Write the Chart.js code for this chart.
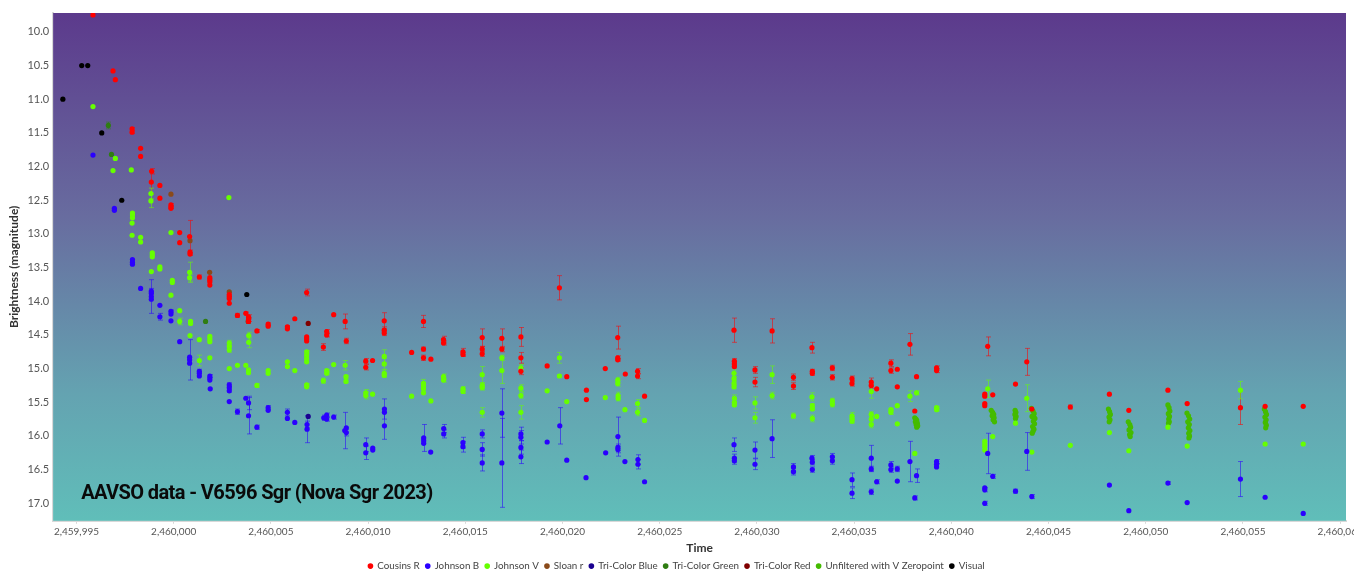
<!DOCTYPE html>
<html>
<head>
<meta charset="utf-8">
<title>AAVSO data - V6596 Sgr (Nova Sgr 2023)</title>
<script src="https://cdn.jsdelivr.net/npm/chart.js@4.4.1/dist/chart.umd.min.js"></script>
<style>
  html, body { margin: 0; padding: 0; background: #ffffff; overflow: hidden; }
  #wrap { width: 1354px; height: 571px; position: relative; }
</style>
</head>
<body>
<div id="wrap"><canvas id="chart" width="1354" height="571"></canvas></div>
<script>
// Observations: [Julian Date, magnitude, uncertainty]
const cousinsR = [
  [2459995.85, 9.75, 0], [2459996.88, 10.58, 0], [2459997.00, 10.71, 0],
  [2459997.86, 11.44, 0.02], [2459997.86, 11.49, 0.02], [2459998.30, 11.73, 0], [2459998.30, 11.85, 0],
  [2459998.87, 12.07, 0.04], [2459998.85, 12.23, 0.17], [2459999.29, 12.28, 0], [2459999.29, 12.47, 0],
  [2459999.86, 12.57, 0.02], [2459999.86, 12.60, 0.02], [2459999.86, 12.62, 0],
  [2460000.31, 12.98, 0], [2460000.31, 13.13, 0], [2460000.82, 13.04, 0.24],
  [2460000.84, 13.27, 0.03], [2460000.84, 13.30, 0.02], [2460001.32, 13.64, 0.03],
  [2460001.86, 13.65, 0], [2460001.86, 13.68, 0], [2460001.86, 13.71, 0], [2460001.86, 13.76, 0],
  [2460002.86, 13.90, 0.03], [2460002.86, 13.93, 0], [2460002.86, 13.96, 0], [2460002.86, 14.03, 0],
  [2460003.28, 14.21, 0.03], [2460003.71, 14.18, 0.02],
  [2460003.85, 14.23, 0.03], [2460003.85, 14.27, 0.03], [2460003.85, 14.30, 0],
  [2460004.28, 14.44, 0.02], [2460004.86, 14.34, 0.02], [2460004.86, 14.37, 0],
  [2460005.85, 14.38, 0.02], [2460005.85, 14.41, 0], [2460006.23, 14.26, 0],
  [2460006.84, 13.87, 0.05], [2460006.84, 14.53, 0], [2460006.84, 14.56, 0], [2460006.84, 14.59, 0],
  [2460007.70, 14.68, 0.05], [2460007.87, 14.45, 0.03], [2460007.87, 14.50, 0.03],
  [2460008.23, 14.20, 0], [2460008.82, 14.30, 0.11], [2460008.88, 14.59, 0.04],
  [2460009.88, 14.89, 0.04], [2460009.88, 14.98, 0.04], [2460010.23, 14.88, 0],
  [2460010.83, 14.29, 0.12], [2460010.83, 14.43, 0.05], [2460010.83, 14.47, 0.04],
  [2460012.24, 14.76, 0], [2460012.85, 14.30, 0.09], [2460012.85, 14.71, 0.03], [2460012.85, 14.84, 0.04],
  [2460013.23, 14.86, 0], [2460013.88, 14.57, 0.05], [2460013.88, 14.62, 0.03],
  [2460014.88, 14.75, 0.05], [2460014.88, 14.79, 0.03],
  [2460015.87, 14.54, 0.13], [2460015.87, 14.71, 0.04], [2460015.87, 14.78, 0.04],
  [2460016.88, 14.55, 0.14], [2460016.88, 14.71, 0.04],
  [2460017.86, 14.53, 0.14], [2460017.86, 14.84, 0.08], [2460017.86, 15.04, 0.05],
  [2460019.21, 14.96, 0], [2460019.84, 13.80, 0.18], [2460020.22, 15.12, 0],
  [2460021.23, 15.32, 0], [2460021.23, 15.46, 0], [2460022.20, 15.00, 0],
  [2460022.84, 14.54, 0.17], [2460022.84, 14.84, 0.03], [2460022.84, 14.87, 0.02],
  [2460023.23, 15.08, 0], [2460023.86, 15.04, 0.04], [2460023.86, 15.11, 0.04], [2460024.22, 15.41, 0],
  [2460028.82, 14.43, 0.18], [2460028.84, 14.89, 0.04], [2460028.84, 14.93, 0.03], [2460028.84, 14.97, 0.02],
  [2460029.90, 15.02, 0.05], [2460029.90, 15.20, 0.07], [2460030.78, 14.44, 0.18],
  [2460031.88, 15.13, 0.05], [2460031.88, 15.26, 0.05],
  [2460032.83, 14.69, 0.08], [2460032.85, 15.04, 0.03], [2460032.85, 15.07, 0.03],
  [2460033.88, 14.99, 0.04], [2460033.88, 15.13, 0.04],
  [2460034.89, 15.15, 0.04], [2460034.89, 15.22, 0.04],
  [2460035.88, 15.20, 0.06], [2460035.88, 15.25, 0.04], [2460036.16, 15.30, 0],
  [2460036.89, 14.92, 0.05], [2460036.89, 15.03, 0.04], [2460037.22, 15.01, 0], [2460037.22, 15.27, 0],
  [2460037.87, 14.64, 0.16], [2460038.21, 15.12, 0], [2460038.12, 15.63, 0],
  [2460039.24, 14.99, 0.03], [2460039.24, 15.03, 0.03],
  [2460041.87, 14.67, 0.14], [2460041.72, 15.38, 0], [2460041.72, 15.41, 0], [2460041.72, 15.52, 0], [2460041.72, 15.55, 0],
  [2460042.13, 15.39, 0], [2460043.30, 15.23, 0], [2460043.88, 14.90, 0.20], [2460044.14, 15.60, 0],
  [2460046.12, 15.57, 0.03], [2460048.13, 15.38, 0], [2460049.13, 15.62, 0], [2460051.14, 15.32, 0],
  [2460052.13, 15.52, 0], [2460054.87, 15.58, 0.25], [2460056.14, 15.56, 0], [2460058.10, 15.56, 0]
];

const johnsonB = [
  [2459995.85, 11.83, 0], [2459996.95, 12.62, 0], [2459996.95, 12.65, 0],
  [2459997.88, 13.38, 0], [2459997.88, 13.42, 0], [2459997.88, 13.45, 0], [2459998.30, 13.81, 0],
  [2459998.85, 13.85, 0.04], [2459998.85, 13.88, 0], [2459998.85, 13.93, 0.25], [2459998.85, 13.97, 0],
  [2459999.29, 14.06, 0], [2459999.29, 14.23, 0.05],
  [2459999.86, 14.15, 0.02], [2459999.86, 14.19, 0], [2459999.86, 14.29, 0], [2460000.31, 14.60, 0],
  [2460000.82, 14.83, 0], [2460000.82, 14.87, 0.30], [2460000.82, 14.92, 0],
  [2460001.32, 15.04, 0.03], [2460001.32, 15.07, 0], [2460001.32, 15.11, 0],
  [2460001.86, 15.11, 0.02], [2460001.86, 15.14, 0], [2460001.86, 15.17, 0], [2460001.88, 15.30, 0],
  [2460002.86, 15.24, 0.03], [2460002.86, 15.28, 0.02], [2460002.86, 15.33, 0.02], [2460002.86, 15.49, 0],
  [2460003.28, 15.64, 0.04], [2460003.71, 15.44, 0],
  [2460003.85, 15.51, 0.10], [2460003.85, 15.70, 0.27], [2460004.28, 15.87, 0.03],
  [2460004.86, 15.58, 0.03], [2460004.86, 15.62, 0], [2460005.85, 15.65, 0.05], [2460005.85, 15.74, 0],
  [2460006.23, 15.80, 0], [2460006.86, 15.83, 0.05], [2460006.86, 15.90, 0.20],
  [2460007.72, 15.73, 0.04], [2460007.87, 15.69, 0.03], [2460007.87, 15.75, 0.03], [2460008.23, 15.72, 0.03],
  [2460008.80, 15.92, 0.27], [2460008.88, 15.88, 0], [2460008.88, 15.95, 0.05],
  [2460009.88, 16.13, 0.10], [2460009.88, 16.25, 0.10], [2460010.24, 16.18, 0], [2460010.24, 16.21, 0],
  [2460010.84, 15.60, 0.15], [2460010.84, 15.65, 0], [2460010.84, 15.85, 0.20],
  [2460012.86, 16.03, 0.20], [2460012.86, 16.07, 0], [2460012.86, 16.11, 0], [2460013.22, 16.24, 0],
  [2460013.89, 15.89, 0.06], [2460013.89, 15.97, 0.06],
  [2460014.88, 16.10, 0.08], [2460014.88, 16.16, 0.08],
  [2460015.87, 15.97, 0.06], [2460015.87, 16.20, 0.10], [2460015.87, 16.40, 0.12],
  [2460016.88, 15.66, 0.36], [2460016.88, 16.40, 0.66],
  [2460017.86, 15.97, 0.10], [2460017.86, 16.02, 0.10], [2460017.86, 16.17, 0.10], [2460017.86, 16.31, 0.10],
  [2460019.21, 16.09, 0], [2460019.86, 15.85, 0.27], [2460020.22, 16.36, 0], [2460021.21, 16.62, 0],
  [2460022.22, 16.25, 0], [2460022.85, 16.01, 0.29], [2460022.85, 16.17, 0.05], [2460022.85, 16.20, 0.05],
  [2460023.21, 16.38, 0], [2460023.88, 16.35, 0.07], [2460023.88, 16.42, 0.07], [2460024.22, 16.68, 0],
  [2460028.82, 16.13, 0.10], [2460028.84, 16.33, 0.06], [2460028.84, 16.37, 0.05],
  [2460029.90, 16.21, 0.12], [2460029.90, 16.42, 0.08], [2460030.78, 16.04, 0.28],
  [2460031.88, 16.46, 0.05], [2460031.88, 16.53, 0.05],
  [2460032.83, 16.33, 0.04], [2460032.85, 16.39, 0.04], [2460032.85, 16.50, 0.04],
  [2460033.88, 16.31, 0.05], [2460033.88, 16.37, 0.05],
  [2460034.89, 16.65, 0.10], [2460034.89, 16.85, 0.08],
  [2460035.88, 16.33, 0.19], [2460035.88, 16.49, 0.04], [2460035.88, 16.83, 0.04], [2460036.16, 16.68, 0.03],
  [2460036.89, 16.43, 0.05], [2460036.89, 16.50, 0.04], [2460037.22, 16.49, 0.04], [2460037.22, 16.67, 0],
  [2460037.87, 16.38, 0.30], [2460038.21, 16.59, 0.10], [2460038.12, 16.92, 0.03],
  [2460039.24, 16.38, 0.03], [2460039.24, 16.42, 0], [2460039.24, 16.46, 0],
  [2460041.72, 16.77, 0], [2460041.72, 16.80, 0.03], [2460041.72, 17.00, 0.03], [2460041.87, 16.26, 0.30],
  [2460042.13, 16.60, 0.03], [2460043.30, 16.82, 0.03], [2460043.88, 16.23, 0.28], [2460044.14, 16.90, 0.03],
  [2460048.13, 16.73, 0], [2460049.13, 17.11, 0], [2460051.14, 16.70, 0.02], [2460052.13, 16.99, 0],
  [2460054.87, 16.64, 0.26], [2460056.14, 16.91, 0], [2460058.10, 17.15, 0]
];

const johnsonV = [
  [2459995.85, 11.11, 0], [2459997.00, 11.88, 0], [2459996.88, 12.06, 0], [2459997.82, 12.05, 0],
  [2459998.83, 12.40, 0.08], [2459998.83, 12.51, 0.10], [2460002.84, 12.46, 0],
  [2459997.88, 12.69, 0], [2459997.88, 12.72, 0], [2459997.88, 12.76, 0], [2459997.86, 12.84, 0], [2459997.86, 13.02, 0],
  [2459998.30, 13.05, 0], [2459998.30, 13.12, 0],
  [2459998.90, 13.28, 0], [2459998.90, 13.31, 0], [2459998.90, 13.34, 0], [2459998.85, 13.56, 0],
  [2459999.29, 13.49, 0], [2459999.29, 13.52, 0], [2459999.86, 12.98, 0],
  [2459999.93, 13.69, 0], [2459999.93, 13.72, 0], [2459999.86, 13.91, 0],
  [2460000.82, 13.57, 0.15], [2460000.82, 13.65, 0.05], [2460000.31, 14.14, 0], [2460000.31, 14.30, 0.05],
  [2460000.87, 14.30, 0], [2460000.87, 14.33, 0], [2460000.84, 14.51, 0],
  [2460001.32, 14.57, 0], [2460001.32, 14.88, 0.08],
  [2460001.86, 14.52, 0], [2460001.86, 14.56, 0], [2460001.86, 14.60, 0], [2460001.86, 14.84, 0],
  [2460002.86, 14.62, 0.04], [2460002.86, 14.67, 0], [2460002.86, 14.72, 0.04], [2460002.86, 15.00, 0],
  [2460003.28, 14.95, 0], [2460003.71, 14.95, 0], [2460003.85, 15.02, 0], [2460003.85, 15.06, 0],
  [2460003.86, 14.51, 0.05], [2460003.86, 14.61, 0.08], [2460004.28, 15.25, 0.03],
  [2460004.86, 15.03, 0], [2460004.86, 15.07, 0], [2460005.85, 14.90, 0], [2460005.85, 14.97, 0],
  [2460006.23, 15.03, 0],
  [2460006.84, 14.75, 0.02], [2460006.84, 14.80, 0], [2460006.84, 14.85, 0], [2460006.84, 14.90, 0],
  [2460006.84, 15.24, 0.02], [2460006.84, 15.27, 0],
  [2460007.70, 15.18, 0.04], [2460007.87, 15.03, 0.02], [2460007.87, 15.07, 0.02], [2460008.23, 14.94, 0],
  [2460008.82, 14.95, 0.07], [2460008.86, 15.12, 0.02], [2460008.86, 15.19, 0.02],
  [2460009.88, 15.36, 0.05], [2460009.88, 15.40, 0.05], [2460010.23, 15.38, 0],
  [2460010.83, 14.82, 0.10], [2460010.83, 14.93, 0.08], [2460010.83, 15.07, 0.05], [2460010.83, 15.10, 0.03],
  [2460012.24, 15.41, 0],
  [2460012.85, 15.22, 0.06], [2460012.85, 15.26, 0], [2460012.85, 15.30, 0], [2460012.85, 15.36, 0],
  [2460013.23, 15.48, 0], [2460013.88, 15.12, 0.04], [2460013.88, 15.17, 0.03],
  [2460014.88, 15.30, 0.03], [2460014.88, 15.34, 0.03],
  [2460015.87, 15.09, 0.12], [2460015.87, 15.25, 0.04], [2460015.87, 15.28, 0.04], [2460015.87, 15.65, 0.07],
  [2460016.88, 14.84, 0.04], [2460016.88, 15.03, 0.19],
  [2460017.86, 14.99, 0.05], [2460017.86, 15.29, 0.05], [2460017.86, 15.40, 0.04], [2460017.86, 15.65, 0.10],
  [2460019.21, 15.33, 0], [2460019.84, 14.84, 0.08], [2460019.84, 15.11, 0.02], [2460020.22, 15.49, 0],
  [2460022.20, 15.43, 0],
  [2460022.84, 15.17, 0.04], [2460022.84, 15.22, 0.04], [2460022.86, 15.40, 0.05], [2460022.86, 15.44, 0.04],
  [2460023.21, 15.61, 0], [2460023.86, 15.52, 0.06], [2460023.86, 15.65, 0.05], [2460024.22, 15.77, 0],
  [2460028.82, 15.07, 0.05], [2460028.82, 15.15, 0.03], [2460028.82, 15.22, 0.03], [2460028.82, 15.27, 0.03],
  [2460028.84, 15.44, 0.05], [2460028.84, 15.50, 0.04], [2460028.84, 15.54, 0],
  [2460029.90, 15.51, 0.09], [2460029.90, 15.73, 0.08], [2460030.78, 15.09, 0.13], [2460030.78, 15.40, 0.05],
  [2460031.88, 15.70, 0.04],
  [2460032.83, 15.42, 0.06], [2460032.85, 15.55, 0.03], [2460032.85, 15.60, 0.02], [2460032.85, 15.74, 0.05],
  [2460033.88, 15.48, 0.04], [2460033.88, 15.53, 0.04],
  [2460034.89, 15.70, 0.05], [2460034.89, 15.74, 0.03], [2460034.89, 15.78, 0.03],
  [2460035.88, 15.34, 0.10], [2460035.88, 15.68, 0.04], [2460035.88, 15.75, 0.06], [2460035.88, 15.83, 0.05],
  [2460036.16, 15.71, 0], [2460036.89, 15.61, 0.02], [2460036.89, 15.65, 0.03],
  [2460037.22, 15.55, 0], [2460037.22, 15.82, 0], [2460037.87, 15.41, 0.08], [2460038.21, 15.36, 0.03],
  [2460038.12, 16.26, 0], [2460039.24, 15.58, 0.02], [2460039.24, 15.61, 0.02],
  [2460041.87, 15.30, 0.13],
  [2460041.72, 16.08, 0], [2460041.72, 16.12, 0], [2460041.72, 16.16, 0], [2460041.72, 16.21, 0],
  [2460042.13, 16.01, 0], [2460043.30, 15.81, 0], [2460043.88, 15.44, 0.20], [2460044.14, 16.24, 0],
  [2460046.12, 16.14, 0], [2460048.13, 15.95, 0], [2460049.13, 16.22, 0], [2460051.14, 15.87, 0],
  [2460052.13, 16.15, 0], [2460054.87, 15.32, 0.13], [2460056.14, 16.12, 0], [2460058.10, 16.12, 0]
];

const sloanR = [
  [2459999.86, 12.41, 0], [2460000.84, 13.10, 0], [2460001.85, 13.57, 0],
  [2460002.86, 13.86, 0], [2460003.83, 14.30, 0.03]
];

const triColorBlue = [[2460006.92, 15.71, 0]];
const triColorGreen = [[2459996.64, 11.39, 0.05], [2459996.80, 11.82, 0], [2460001.64, 14.30, 0]];
const triColorRed = [[2460006.92, 14.33, 0]];

const unfilteredV = [
  [2460038.12, 15.73, 0], [2460038.18, 15.75, 0], [2460038.22, 15.77, 0], [2460038.15, 15.79, 0],
  [2460038.25, 15.81, 0], [2460038.19, 15.83, 0], [2460038.27, 15.85, 0], [2460038.22, 15.87, 0],
  [2460042.05, 15.62, 0], [2460042.12, 15.65, 0], [2460042.18, 15.68, 0], [2460042.10, 15.70, 0],
  [2460042.20, 15.73, 0], [2460042.15, 15.76, 0], [2460042.22, 15.79, 0],
  [2460043.28, 15.62, 0], [2460043.32, 15.65, 0], [2460043.27, 15.68, 0], [2460043.33, 15.71, 0], [2460043.30, 15.74, 0],
  [2460044.12, 15.59, 0], [2460044.20, 15.63, 0], [2460044.26, 15.67, 0], [2460044.15, 15.71, 0],
  [2460044.30, 15.74, 0], [2460044.22, 15.78, 0], [2460044.28, 15.82, 0], [2460044.18, 15.86, 0],
  [2460044.25, 15.90, 0], [2460044.20, 15.93, 0], [2460044.16, 15.96, 0],
  [2460048.08, 15.60, 0], [2460048.14, 15.64, 0], [2460048.18, 15.68, 0], [2460048.11, 15.72, 0],
  [2460048.16, 15.76, 0], [2460048.12, 15.79, 0],
  [2460049.10, 15.79, 0], [2460049.18, 15.83, 0], [2460049.22, 15.87, 0], [2460049.14, 15.91, 0],
  [2460049.24, 15.95, 0], [2460049.17, 15.98, 0], [2460049.20, 16.01, 0],
  [2460051.14, 15.54, 0], [2460051.20, 15.58, 0], [2460051.24, 15.63, 0], [2460051.16, 15.67, 0],
  [2460051.22, 15.71, 0], [2460051.18, 15.75, 0], [2460051.21, 15.79, 0], [2460051.17, 15.81, 0],
  [2460052.12, 15.66, 0], [2460052.20, 15.70, 0], [2460052.26, 15.75, 0], [2460052.16, 15.79, 0],
  [2460052.24, 15.83, 0], [2460052.19, 15.88, 0], [2460052.27, 15.92, 0], [2460052.21, 15.96, 0],
  [2460052.25, 16.00, 0], [2460052.22, 16.03, 0],
  [2460056.10, 15.60, 0], [2460056.16, 15.64, 0], [2460056.21, 15.68, 0], [2460056.13, 15.72, 0],
  [2460056.19, 15.76, 0], [2460056.15, 15.80, 0], [2460056.20, 15.84, 0], [2460056.17, 15.88, 0]
];

const visual = [
  [2459994.30, 11.0, 0], [2459995.27, 10.5, 0], [2459995.58, 10.5, 0],
  [2459996.30, 11.5, 0], [2459997.33, 12.5, 0], [2460003.76, 13.9, 0]
];

const seriesNames = ['Cousins R', 'Johnson B', 'Johnson V', 'Sloan r', 'Tri-Color Blue',
  'Tri-Color Green', 'Tri-Color Red', 'Unfiltered with V Zeropoint', 'Visual'];
const seriesData = [cousinsR, johnsonB, johnsonV, sloanR, triColorBlue,
  triColorGreen, triColorRed, unfilteredV, visual];
const seriesColors = ['#ff0000', '#2a00ff', '#66ff00', '#8a4a1a', '#1a0090',
  '#2f7d12', '#800000', '#44bb00', '#000000'];

const xTickValues = [2459995, 2460000, 2460005, 2460010, 2460015, 2460020, 2460025,
  2460030, 2460035, 2460040, 2460045, 2460050, 2460055, 2460060];
const yTickValues = [10.0, 10.5, 11.0, 11.5, 12.0, 12.5, 13.0, 13.5, 14.0, 14.5,
  15.0, 15.5, 16.0, 16.5, 17.0];

const chartTitle = 'AAVSO data - V6596 Sgr (Nova Sgr 2023)';

function withAlpha(hex, a) {
  const n = parseInt(hex.slice(1), 16);
  return `rgba(${(n >> 16) & 255},${(n >> 8) & 255},${n & 255},${a})`;
}

// Purple-to-teal backdrop behind the plotting area
const plotBackground = {
  id: 'plotBackground',
  beforeDatasetsDraw(chart) {
    const { ctx, chartArea: a } = chart;
    const g = ctx.createLinearGradient(0, a.top, 0, a.bottom);
    g.addColorStop(0, '#5c3a8c');
    g.addColorStop(0.4, '#686c9f');
    g.addColorStop(0.75, '#64a3b1');
    g.addColorStop(1, '#60beb9');
    ctx.save();
    ctx.fillStyle = g;
    ctx.fillRect(a.left, a.top, a.right - a.left, a.bottom - a.top);
    ctx.restore();
  }
};

// Vertical uncertainty bars with small caps
const errorBars = {
  id: 'errorBars',
  beforeDatasetsDraw(chart) {
    const { ctx, chartArea: a, scales: { x, y } } = chart;
    ctx.save();
    ctx.beginPath();
    ctx.rect(a.left, a.top, a.right - a.left, a.bottom - a.top);
    ctx.clip();
    chart.data.datasets.forEach((ds, i) => {
      if (!chart.isDatasetVisible(i)) return;
      ctx.strokeStyle = withAlpha(ds.baseColor, 0.55);
      ctx.lineWidth = 1;
      ds.data.forEach(p => {
        if (!p.err) return;
        const px = Math.round(x.getPixelForValue(p.x)) + 0.5;
        const y0 = y.getPixelForValue(p.y - p.err);
        const y1 = y.getPixelForValue(p.y + p.err);
        ctx.beginPath();
        ctx.moveTo(px, y0); ctx.lineTo(px, y1);
        ctx.moveTo(px - 2.5, y0); ctx.lineTo(px + 2.5, y0);
        ctx.moveTo(px - 2.5, y1); ctx.lineTo(px + 2.5, y1);
        ctx.stroke();
      });
    });
    ctx.restore();
  }
};

// Caption in the lower-left corner of the plot
const captionPlugin = {
  id: 'caption',
  afterDatasetsDraw(chart) {
    const { ctx, chartArea: a } = chart;
    ctx.save();
    ctx.font = 'bold 20px Roboto, "Liberation Sans", sans-serif';
    if ('letterSpacing' in ctx) ctx.letterSpacing = '-0.6px';
    ctx.fillStyle = '#0a0a0a';
    ctx.textBaseline = 'alphabetic';
    ctx.textAlign = 'left';
    ctx.fillText(chartTitle, a.left + 28, a.bottom - 22);
    ctx.restore();
  }
};

const datasets = seriesNames.map((name, i) => ({
  label: name,
  data: seriesData[i].map(([jd, mag, err]) => ({ x: jd, y: mag, err })),
  baseColor: seriesColors[i],
  backgroundColor: seriesColors[i],
  borderColor: seriesColors[i],
  borderWidth: 0,
  pointRadius: 2.6,
  pointHoverRadius: 3,
  pointStyle: 'circle'
}));

const uiFont = 'Lato, "Open Sans", sans-serif';

new Chart(document.getElementById('chart'), {
  type: 'scatter',
  data: { datasets },
  options: {
    responsive: false,
    animation: false,
    devicePixelRatio: 1,
    layout: { padding: { left: 7, right: 8, top: 13, bottom: -10 } },
    plugins: {
      legend: {
        position: 'bottom',
        labels: {
          usePointStyle: true,
          boxWidth: 4,
          boxHeight: 4,
          padding: 6,
          color: '#444',
          font: { family: uiFont, size: 9.8 }
        }
      },
      tooltip: { enabled: false }
    },
    scales: {
      x: {
        type: 'linear',
        min: 2459993.8,
        max: 2460060.3,
        afterBuildTicks(axis) { axis.ticks = xTickValues.map(v => ({ value: v })); },
        afterFit(axis) { axis.paddingRight = 0; },
        ticks: {
          color: '#555',
          padding: 2,
          maxRotation: 0,
          autoSkip: false,
          font: { family: uiFont, size: 10 },
          callback: v => Number(v).toLocaleString('en-US')
        },
        grid: { drawOnChartArea: false, drawTicks: true, tickLength: 3, color: '#d8d8d8' },
        border: { display: true, color: '#d8d8d8', width: 2 },
        title: {
          display: true,
          text: 'Time',
          color: '#333',
          padding: { top: 1, bottom: 0 },
          font: { family: uiFont, size: 12, weight: 'bold' }
        }
      },
      y: {
        type: 'linear',
        reverse: true,
        min: 9.72,
        max: 17.26,
        afterBuildTicks(axis) { axis.ticks = yTickValues.map(v => ({ value: v })); },
        ticks: {
          color: '#555',
          padding: 4,
          autoSkip: false,
          font: { family: uiFont, size: 11 },
          callback: v => Number(v).toFixed(1)
        },
        grid: { drawOnChartArea: false, drawTicks: false },
        border: { display: true, color: '#d8d8d8', width: 2 },
        title: {
          display: true,
          text: 'Brightness (magnitude)',
          color: '#333',
          padding: { top: 0, bottom: 2 },
          font: { family: uiFont, size: 12, weight: 'bold' }
        }
      }
    }
  },
  plugins: [plotBackground, errorBars, captionPlugin]
});
</script>
</body>
</html>
